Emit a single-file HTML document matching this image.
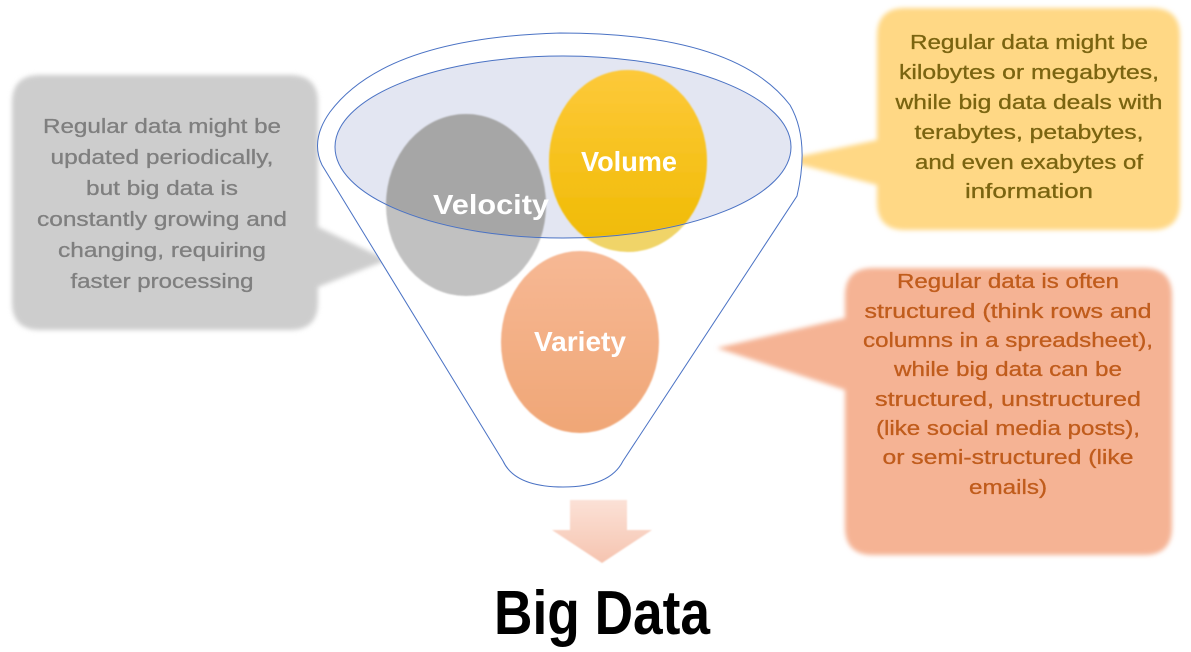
<!DOCTYPE html>
<html><head><meta charset="utf-8"><style>
html,body{margin:0;padding:0;background:#fff;}
svg{display:block;}
text{font-family:"Liberation Sans",sans-serif;}
</style></head><body>
<svg width="1191" height="652" viewBox="0 0 1191 652" xmlns="http://www.w3.org/2000/svg">
<defs>
<filter id="b" x="-10%" y="-10%" width="120%" height="120%"><feGaussianBlur stdDeviation="2.5"/></filter>
<filter id="s" x="-10%" y="-10%" width="120%" height="120%"><feGaussianBlur stdDeviation="0.8"/></filter>
<linearGradient id="gy" x1="0" y1="0" x2="0" y2="1"><stop offset="0" stop-color="#fdc93a"/><stop offset="1" stop-color="#efba00"/></linearGradient>
<linearGradient id="go" x1="0" y1="0" x2="0" y2="1"><stop offset="0" stop-color="#f6b894"/><stop offset="1" stop-color="#f0a676"/></linearGradient>
<linearGradient id="ga" x1="0" y1="0" x2="0" y2="1"><stop offset="0" stop-color="#fbe1d6"/><stop offset="1" stop-color="#f6c4b0"/></linearGradient>
<clipPath id="ec"><ellipse cx="563" cy="147" rx="228" ry="91"/></clipPath>
</defs>

<!-- callouts -->
<g filter="url(#b)">
<path d="M40 75 H290 Q318 75 318 103 V227 L387 260 L318 287 V302 Q318 330 290 330 H40 Q12 330 12 302 V103 Q12 75 40 75 Z" fill="#cdcdcd"/>
<path d="M905 8 H1152 Q1180 8 1180 36 V202 Q1180 230 1152 230 H905 Q877 230 877 202 V185 L783 160 L877 140 V36 Q877 8 905 8 Z" fill="#ffd885"/>
<path d="M873 268 H1144 Q1172 268 1172 296 V527 Q1172 555 1144 555 H873 Q845 555 845 527 V390 L717 348 L845 318 V296 Q845 268 873 268 Z" fill="#f5b394"/>
</g>

<g font-size="20" text-anchor="middle" fill="#7f7f7f" stroke="#7f7f7f" stroke-width="0.3">
<text x="162" y="133" textLength="238" lengthAdjust="spacingAndGlyphs">Regular data might be</text>
<text x="162" y="164" textLength="223" lengthAdjust="spacingAndGlyphs">updated periodically,</text>
<text x="162" y="195" textLength="152" lengthAdjust="spacingAndGlyphs">but big data is</text>
<text x="162" y="226" textLength="250" lengthAdjust="spacingAndGlyphs">constantly growing and</text>
<text x="162" y="257" textLength="208" lengthAdjust="spacingAndGlyphs">changing, requiring</text>
<text x="162" y="288" textLength="183" lengthAdjust="spacingAndGlyphs">faster processing</text>
</g>
<g font-size="20" text-anchor="middle" fill="#7a6410" stroke="#7a6410" stroke-width="0.3">
<text x="1029" y="49" textLength="238" lengthAdjust="spacingAndGlyphs">Regular data might be</text>
<text x="1029" y="79" textLength="260" lengthAdjust="spacingAndGlyphs">kilobytes or megabytes,</text>
<text x="1029" y="109" textLength="267" lengthAdjust="spacingAndGlyphs">while big data deals with</text>
<text x="1029" y="139" textLength="229" lengthAdjust="spacingAndGlyphs">terabytes, petabytes,</text>
<text x="1029" y="169" textLength="228" lengthAdjust="spacingAndGlyphs">and even exabytes of</text>
<text x="1029" y="198" textLength="128" lengthAdjust="spacingAndGlyphs">information</text>
</g>
<g font-size="20" text-anchor="middle" fill="#c05c1c" stroke="#c05c1c" stroke-width="0.3">
<text x="1008" y="288" textLength="222" lengthAdjust="spacingAndGlyphs">Regular data is often</text>
<text x="1008" y="318" textLength="287" lengthAdjust="spacingAndGlyphs">structured (think rows and</text>
<text x="1008" y="347" textLength="290" lengthAdjust="spacingAndGlyphs">columns in a spreadsheet),</text>
<text x="1008" y="376" textLength="228" lengthAdjust="spacingAndGlyphs">while big data can be</text>
<text x="1008" y="406" textLength="266" lengthAdjust="spacingAndGlyphs">structured, unstructured</text>
<text x="1008" y="435" textLength="264" lengthAdjust="spacingAndGlyphs">(like social media posts),</text>
<text x="1008" y="464" textLength="251" lengthAdjust="spacingAndGlyphs">or semi-structured (like</text>
<text x="1008" y="494" textLength="78" lengthAdjust="spacingAndGlyphs">emails)</text>
</g>

<!-- funnel -->
<path d="M322 165 Q310 140 330 112 Q385 38 560 33 Q735 33 790 105 Q810 140 797 196 L623 461 Q610 487 563 487 Q515 487 503 461 Z" fill="#fff" stroke="#4a72c4" stroke-width="1"/>
<ellipse cx="563" cy="147" rx="228" ry="91" fill="#e3e6f2"/>

<!-- circles: lighter outside mouth, darker inside -->
<g filter="url(#s)">
<ellipse cx="466" cy="205" rx="80" ry="91" fill="#c1c1c1"/>
<ellipse cx="628" cy="161" rx="79" ry="91" fill="#f0d468"/>
<g clip-path="url(#ec)">
<ellipse cx="466" cy="205" rx="80" ry="91" fill="#a6a6a6"/>
<ellipse cx="628" cy="161" rx="79" ry="91" fill="url(#gy)"/>
</g>
<ellipse cx="580" cy="342" rx="79" ry="91" fill="url(#go)"/>
</g>
<ellipse cx="563" cy="147" rx="228" ry="91" fill="none" stroke="#4a72c4" stroke-width="1"/>
<g font-size="28" font-weight="bold" fill="#fff" text-anchor="middle">
<text x="491" y="214" textLength="116" lengthAdjust="spacingAndGlyphs">Velocity</text>
<text x="629" y="171" textLength="96" lengthAdjust="spacingAndGlyphs">Volume</text>
<text x="580" y="351" textLength="92" lengthAdjust="spacingAndGlyphs">Variety</text>
</g>

<!-- arrow -->
<path d="M570 500 H627 V530 H652 L602 563 L552 530 H570 Z" fill="url(#ga)" filter="url(#s)"/>

<text x="602" y="634" font-size="62" font-weight="bold" text-anchor="middle" fill="#000" textLength="216" lengthAdjust="spacingAndGlyphs">Big Data</text>
</svg>
</body></html>
